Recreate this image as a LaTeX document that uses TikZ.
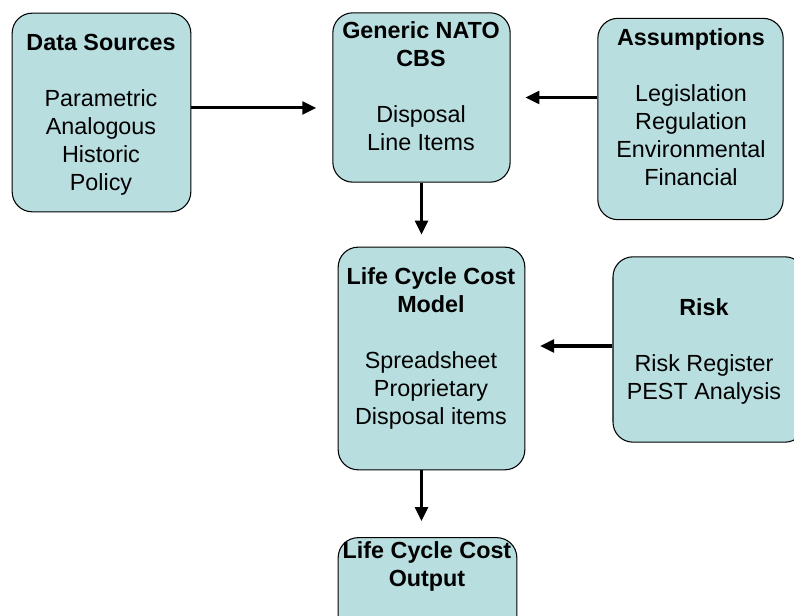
\documentclass[tikz,border=0pt]{standalone}
\usepackage{fontspec}
\setmainfont{Liberation Sans}
\usetikzlibrary{arrows.meta}
\definecolor{boxfill}{RGB}{185,222,224}
\begin{document}
\begin{tikzpicture}[x=0.75pt,y=-0.75pt,
  every node/.style={font=\fontsize{17.5}{21}\selectfont},
  box/.style={draw,line width=0.8pt,fill=boxfill,rounded corners=15pt,inner sep=0pt},
  txt/.style={align=center,inner sep=0pt},
  arr/.style={line width=2.3pt,-{Triangle[length=10.5pt,width=9.5pt]}}]
\useasboundingbox (0,0) rectangle (794,616);
\clip (0,0) rectangle (794,616);
\node[box,minimum width=134pt,minimum height=149pt] (src) at (101.5,112.5) {};
\node[box,minimum width=133pt,minimum height=127pt] (cbs) at (421.5,97.5) {};
\node[box,minimum width=139pt,minimum height=151pt] (asm) at (690.5,119) {};
\node[box,minimum width=140pt,minimum height=167pt] (lcc) at (431.5,358.5) {};
\node[box,minimum width=144pt,minimum height=139pt] (risk) at (709,349.5) {};
\node[box,minimum width=134pt,minimum height=77pt] (out) at (427.5,589) {};
% texts
\node[txt] (src-t) at (101,115) {\textbf{Data Sources}\\[21pt]Parametric\\Analogous\\Historic\\Policy};
\node[txt] (cbs-t) at (421,86) {\textbf{Generic NATO}\\\textbf{CBS}\\[21pt]Disposal\\Line Items};
\node[txt] (asm-t) at (691,107) {\textbf{Assumptions}\\[21pt]Legislation\\Regulation\\Environmental\\Financial};
\node[txt] (lcc-t) at (431,348.5) {\textbf{Life Cycle Cost}\\\textbf{Model}\\[21pt]Spreadsheet\\Proprietary\\Disposal items};
\node[txt] (risk-t) at (704,351) {\textbf{Risk}\\[21pt]Risk Register\\PEST Analysis};
\node[txt] (out-t) at (427,566) {\textbf{Life Cycle Cost}\\\textbf{Output}};
% arrows
\draw[arr,shorten >=12pt] ([yshift=3.4pt]src.east) -- ([yshift=3.4pt]src.east -| cbs.west);
\draw[arr,shorten >=11pt] (asm.west |- cbs.east) -- (cbs.east);
\draw[arr,shorten >=9pt] (cbs.south) -- (cbs.south |- lcc.north);
\draw[arr,shorten >=11pt] ([yshift=2.6pt]risk.west) -- ([yshift=2.6pt]risk.west -| lcc.east);
\draw[arr,shorten >=12pt] (lcc.south -| cbs.south) -- (out.north -| cbs.south);
\end{tikzpicture}
\end{document}
